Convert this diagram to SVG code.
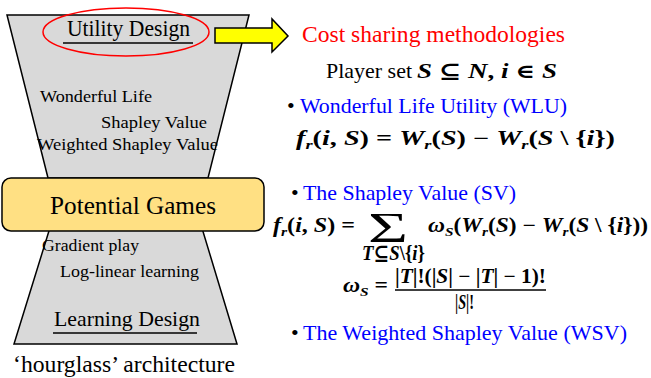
<svg xmlns="http://www.w3.org/2000/svg" width="651" height="378" viewBox="0 0 651 378" font-family="'Liberation Serif', Tinos, 'DejaVu Serif', 'Noto Serif', Times, serif">
<style>
text{font-family:'Liberation Serif',Tinos,'DejaVu Serif','Noto Serif',Times,serif;fill:#000}
.lbl{font-size:17.5px}
.blue{fill:#0000FF;font-size:22px}
.math{font-weight:bold;font-style:italic;font-size:20px}
.up{font-style:normal}
.sub{font-size:13px}
.trap{fill:#D9D9D9;stroke:#000;stroke-width:1.5}
.ul{stroke:#000;stroke-width:1.5}
</style>
<rect width="651" height="378" fill="#fff"/>
<g id="hourglass">
  <polygon class="trap" points="7,15 249,15 208,178 48,178"/>
  <polygon class="trap" points="57,205 195,205 237,344 14,344"/>
</g>
<g id="utility-design">
  <text x="67" y="36" font-size="22.5" textLength="123" lengthAdjust="spacingAndGlyphs">Utility Design</text>
  <line class="ul" x1="63" y1="43" x2="193" y2="43"/>
  <ellipse cx="126" cy="32" rx="83" ry="24" fill="none" stroke="#FF0000" stroke-width="1.5"/>
</g>
<g id="utility-list">
  <text class="lbl" x="40" y="102" textLength="112" lengthAdjust="spacingAndGlyphs">Wonderful Life</text>
  <text class="lbl" x="101" y="128" textLength="106" lengthAdjust="spacingAndGlyphs">Shapley Value</text>
  <text class="lbl" x="37" y="150" textLength="181" lengthAdjust="spacingAndGlyphs">Weighted Shapley Value</text>
</g>
<g id="potential-games">
  <rect x="2" y="178" width="262" height="53" rx="9" fill="#FFE083" stroke="#000" stroke-width="1.5"/>
  <text x="50" y="214" font-size="24.5" textLength="166" lengthAdjust="spacingAndGlyphs">Potential Games</text>
</g>
<g id="learning-list">
  <text class="lbl" x="42" y="251" textLength="97" lengthAdjust="spacingAndGlyphs">Gradient play</text>
  <text class="lbl" x="60" y="277" textLength="139" lengthAdjust="spacingAndGlyphs">Log-linear learning</text>
</g>
<g id="learning-design">
  <text x="54" y="326" font-size="22" textLength="146" lengthAdjust="spacingAndGlyphs">Learning Design</text>
  <line class="ul" x1="53" y1="333" x2="197" y2="333"/>
</g>
<text id="caption" x="13" y="372" font-size="23" textLength="222" lengthAdjust="spacingAndGlyphs">‘hourglass’ architecture</text>
<g id="connectors">
  <polygon points="215,28 272,28 272,19 288,36 272,52 272,43 215,43" fill="#FFFF00" stroke="#000" stroke-width="1.5" stroke-linejoin="miter"/>
</g>
<g id="cost-sharing">
  <text x="302" y="42" font-size="23.5" style="fill:#FF0000" textLength="263" lengthAdjust="spacingAndGlyphs">Cost sharing methodologies</text>
  <text x="326" y="78" font-size="21.5" textLength="86" lengthAdjust="spacingAndGlyphs">Player set</text>
  <text class="math" x="417" y="78" font-size="23" textLength="140" lengthAdjust="spacingAndGlyphs">S <tspan class="up">⊆</tspan> N<tspan class="up">,</tspan> i <tspan class="up">∈</tspan> S</text>
</g>
<g id="wlu">
  <text x="287" y="113" font-size="22">•</text>
  <text class="blue" x="300" y="113" textLength="267" lengthAdjust="spacingAndGlyphs">Wonderful Life Utility (WLU)</text>
  <text class="math" x="296" y="145" font-size="21" textLength="319" lengthAdjust="spacingAndGlyphs">f<tspan class="sub" dy="4">r</tspan><tspan dy="-4" class="up">(</tspan>i<tspan class="up">,</tspan> S<tspan class="up">) = </tspan>W<tspan class="sub" dy="4">r</tspan><tspan dy="-4" class="up">(</tspan>S<tspan class="up">) − </tspan>W<tspan class="sub" dy="4">r</tspan><tspan dy="-4" class="up">(</tspan>S <tspan class="up">\ {</tspan>i<tspan class="up">})</tspan></text>
</g>
<g id="sv">
  <text x="291" y="200" font-size="22">•</text>
  <text class="blue" x="303" y="200" textLength="213" lengthAdjust="spacingAndGlyphs">The Shapley Value (SV)</text>
  <text class="math" x="273" y="232" textLength="82" lengthAdjust="spacingAndGlyphs">f<tspan class="sub" dy="4">r</tspan><tspan dy="-4" class="up">(</tspan>i<tspan class="up">,</tspan> S<tspan class="up">) =</tspan></text>
  <text x="368" y="242" font-size="42" textLength="40" lengthAdjust="spacingAndGlyphs">Σ</text>
  <text class="math" x="362" y="260" font-size="12.5" textLength="63" lengthAdjust="spacingAndGlyphs">T<tspan class="up">⊆</tspan>S<tspan class="up">\{</tspan>i<tspan class="up">}</tspan></text>
  <text class="math" x="428" y="232" textLength="220" lengthAdjust="spacingAndGlyphs">ω<tspan class="sub" dy="4">S</tspan><tspan dy="-4" class="up">(</tspan>W<tspan class="sub" dy="4">r</tspan><tspan dy="-4" class="up">(</tspan>S<tspan class="up">) − </tspan>W<tspan class="sub" dy="4">r</tspan><tspan dy="-4" class="up">(</tspan>S <tspan class="up">\ {</tspan>i<tspan class="up">}))</tspan></text>
  <text class="math" x="343" y="292" textLength="45" lengthAdjust="spacingAndGlyphs">ω<tspan class="sub" dy="4">S</tspan><tspan dy="-4" class="up"> =</tspan></text>
  <text class="math" x="395" y="283" font-size="19" textLength="151" lengthAdjust="spacingAndGlyphs"><tspan class="up">|</tspan>T<tspan class="up">|!(|</tspan>S<tspan class="up">| − |</tspan>T<tspan class="up">| − 1)!</tspan></text>
  <line x1="395" y1="290" x2="546" y2="290" stroke="#000" stroke-width="1.3"/>
  <text class="math" x="455" y="309" font-size="18" textLength="19" lengthAdjust="spacingAndGlyphs"><tspan class="up">|</tspan>S<tspan class="up">|!</tspan></text>
</g>
<g id="wsv">
  <text x="291" y="340" font-size="22">•</text>
  <text class="blue" x="303" y="340" textLength="324" lengthAdjust="spacingAndGlyphs">The Weighted Shapley Value (WSV)</text>
</g>
</svg>
